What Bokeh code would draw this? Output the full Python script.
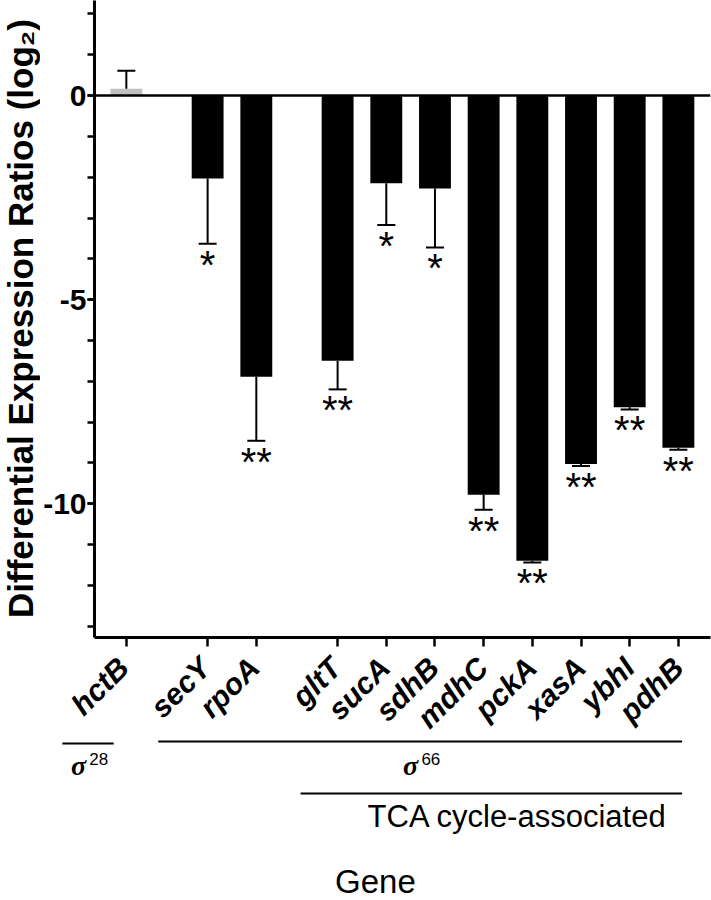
import math
from bokeh.plotting import figure
from bokeh.models import Range1d, FixedTicker, Span, ColumnDataSource
from bokeh.layouts import column, row
from bokeh.core.properties import value
from bokeh.embed import file_html
from bokeh.resources import INLINE

# ---------------- data ----------------
genes = ["hctB", "secY", "rpoA", "gltT", "sucA", "sdhB", "mdhC", "pckA", "xasA", "ybhI", "pdhB"]
groups = [0, 1, 1, 2, 2, 2, 2, 2, 2, 2, 2]          # 0: sigma28, 1: sigma66, 2: sigma66 TCA-cycle
ratios = [0.17, -2.03, -6.89, -6.50, -2.15, -2.28, -9.78, -11.40, -9.03, -7.64, -8.63]
errors = [0.44, 1.60, 1.57, 0.70, 1.02, 1.44, 0.37, 0.04, 0.05, 0.05, 0.05]
signif = ["", "*", "**", "**", "*", "*", "**", "**", "**", "**", "**"]
y_major = [-10, -5, 0]
y_minor = list(range(-13, 3))
bar_colors = ["#c0c0c0"] + ["black"] * 10

GROUP_GAP = 0.67
xpos = [i + GROUP_GAP * g for i, g in enumerate(groups)]
err_end = [r + (e if r > 0 else -e) for r, e in zip(ratios, errors)]

# ---------------- geometry ----------------
W = 711
H = 900
LW = 40           # left strip (y title)
HA = 648          # chart height
HB = H - HA       # bottom strip (gene labels and brackets)
FL, FR, FT, FB = 91, 1, 0, 637      # frame edges in page px
x0, x1 = -0.654, 12.0
y0, y1 = -13.28, 2.33
unit_x = (W - FL - FR) / (x1 - x0)
unit_y = (FB - FT) / (y1 - y0)

src = ColumnDataSource(dict(
    x=xpos, ratio=ratios, end=err_end, color=bar_colors,
    cl=[x - 0.185 for x in xpos], cr=[x + 0.185 for x in xpos],
))
sig_idx = [i for i, s in enumerate(signif) if s]
sig_src = ColumnDataSource(dict(
    x=[xpos[i] for i in sig_idx], end=[err_end[i] for i in sig_idx],
    sig=[signif[i] for i in sig_idx],
))

def blank(fig):
    fig.outline_line_color = None
    fig.background_fill_color = "white"
    fig.border_fill_color = "white"
    fig.frame_align = False

# ---------------- main chart ----------------
p = figure(width=W - LW, height=HA, x_range=Range1d(x0, x1), y_range=Range1d(y0, y1),
           output_backend="svg", toolbar_location=None,
           min_border_left=FL - LW, min_border_right=FR, min_border_top=FT,
           min_border_bottom=HA - FB)
blank(p)
p.xgrid.visible = False
p.ygrid.visible = False

p.vbar(x="x", top="ratio", bottom=0, width=0.655, fill_color="color",
       line_color=None, source=src)
p.segment(x0="x", y0="ratio", x1="x", y1="end", line_color="black",
          line_width=2, source=src)
p.segment(x0="cl", y0="end", x1="cr", y1="end", line_color="black",
          line_width=2, source=src)
p.text(x="x", y="end", text="sig", text_align="center", text_baseline="alphabetic",
       y_offset=21, text_font=value("Liberation Sans"), text_font_size="40px",
       text_color="black", source=sig_src)

p.add_layout(Span(location=0, dimension="width", line_color="black", line_width=2.5))

ya = p.yaxis[0]
ya.ticker = FixedTicker(ticks=y_major, minor_ticks=y_minor)
ya.major_label_overrides = {t: str(t) for t in y_major}
ya.axis_line_width = 3
ya.major_tick_line_width = 2.5
ya.minor_tick_line_width = 2.5
ya.major_tick_out = 7
ya.major_tick_in = 0
ya.minor_tick_out = 7
ya.minor_tick_in = 0
ya.major_label_standoff = 1
ya.major_label_text_font = "Liberation Sans"
ya.major_label_text_font_style = "bold"
ya.major_label_text_font_size = "30px"
ya.major_label_text_color = "black"

xa = p.xaxis[0]
xa.ticker = FixedTicker(ticks=xpos, minor_ticks=[])
xa.axis_line_width = 3
xa.major_tick_line_width = 2.5
xa.major_tick_out = 9
xa.major_tick_in = 0
xa.minor_tick_line_color = None
xa.major_label_standoff = 0
xa.major_label_text_font_size = "0px"
xa.major_label_text_color = None

# ---------------- left strip: y title ----------------
left = figure(width=LW, height=HA, x_range=Range1d(0, LW), y_range=Range1d(-HA, 0),
              output_backend="svg", toolbar_location=None,
              min_border_left=0, min_border_right=0, min_border_top=0, min_border_bottom=0)
blank(left)
left.axis.visible = False
left.grid.visible = False
left.text(x=[20], y=[-318], text=["Differential Expression Ratios (log\u2082)"],
          angle=math.pi / 2, text_align="center", text_baseline="middle",
          text_font=value("Liberation Sans"), text_font_style="bold",
          text_font_size="35px", text_color="black")

# ---------------- bottom strip: gene labels and group brackets ----------------
xb0 = x0 - FL / unit_x
xb1 = x1 + FR / unit_x
q = figure(width=W, height=HB, x_range=Range1d(xb0, xb1), y_range=Range1d(-HB, 0),
           output_backend="svg", toolbar_location=None,
           min_border_left=0, min_border_right=0, min_border_top=0, min_border_bottom=0)
blank(q)
q.axis.visible = False
q.grid.visible = False

def py(page_y):
    return HA - page_y

q.text(x=[x for x in xpos], y=[py(662)] * len(genes), text=genes,
       angle=math.pi / 4, text_align="right", text_baseline="middle",
       text_font=value("Liberation Sans"), text_font_style="bold italic",
       text_font_size="30px", text_color="black")

def gx(name):
    return xpos[genes.index(name)]

# brackets: (first gene, last gene, left pad, right pad, page y)
brackets = [("hctB", "hctB", -1.25, -0.20, 743),
            ("secY", "pdhB", -0.96, 0.08, 741),
            ("gltT", "pdhB", -0.72, 0.08, 793)]
q.segment(x0=[gx(a) + l for a, b, l, r, y in brackets],
          y0=[py(y) for a, b, l, r, y in brackets],
          x1=[gx(b) + r for a, b, l, r, y in brackets],
          y1=[py(y) for a, b, l, r, y in brackets],
          line_color="black", line_width=2)

sigma_labels = [("28", gx("hctB") - 0.92), ("66", gx("secY") + 4.2)]
q.text(x=[s[1] for s in sigma_labels], y=[py(764.5)] * 2, text=["\u03c3"] * 2,
       text_align="center", text_baseline="middle",
       text_font=value("Liberation Serif"), text_font_style="bold italic",
       text_font_size="28px", text_color="black")
q.text(x=[s[1] + 0.22 for s in sigma_labels], y=[py(758)] * 2, text=[s[0] for s in sigma_labels],
       text_align="left", text_baseline="middle",
       text_font=value("Liberation Sans"), text_font_size="17px", text_color="black")

q.text(x=[gx("gltT") + 0.65], y=[py(816)], text=["TCA cycle-associated"],
       text_align="left", text_baseline="middle",
       text_font=value("Liberation Sans"), text_font_size="31px", text_color="black")
q.text(x=[gx("hctB") + 5.15], y=[py(881)], text=["Gene"],
       text_align="center", text_baseline="middle",
       text_font=value("Liberation Sans"), text_font_size="33px", text_color="black")

layout = column(row(left, p, spacing=0), q, spacing=0)

open("out.html", "w").write(file_html(layout, INLINE))
